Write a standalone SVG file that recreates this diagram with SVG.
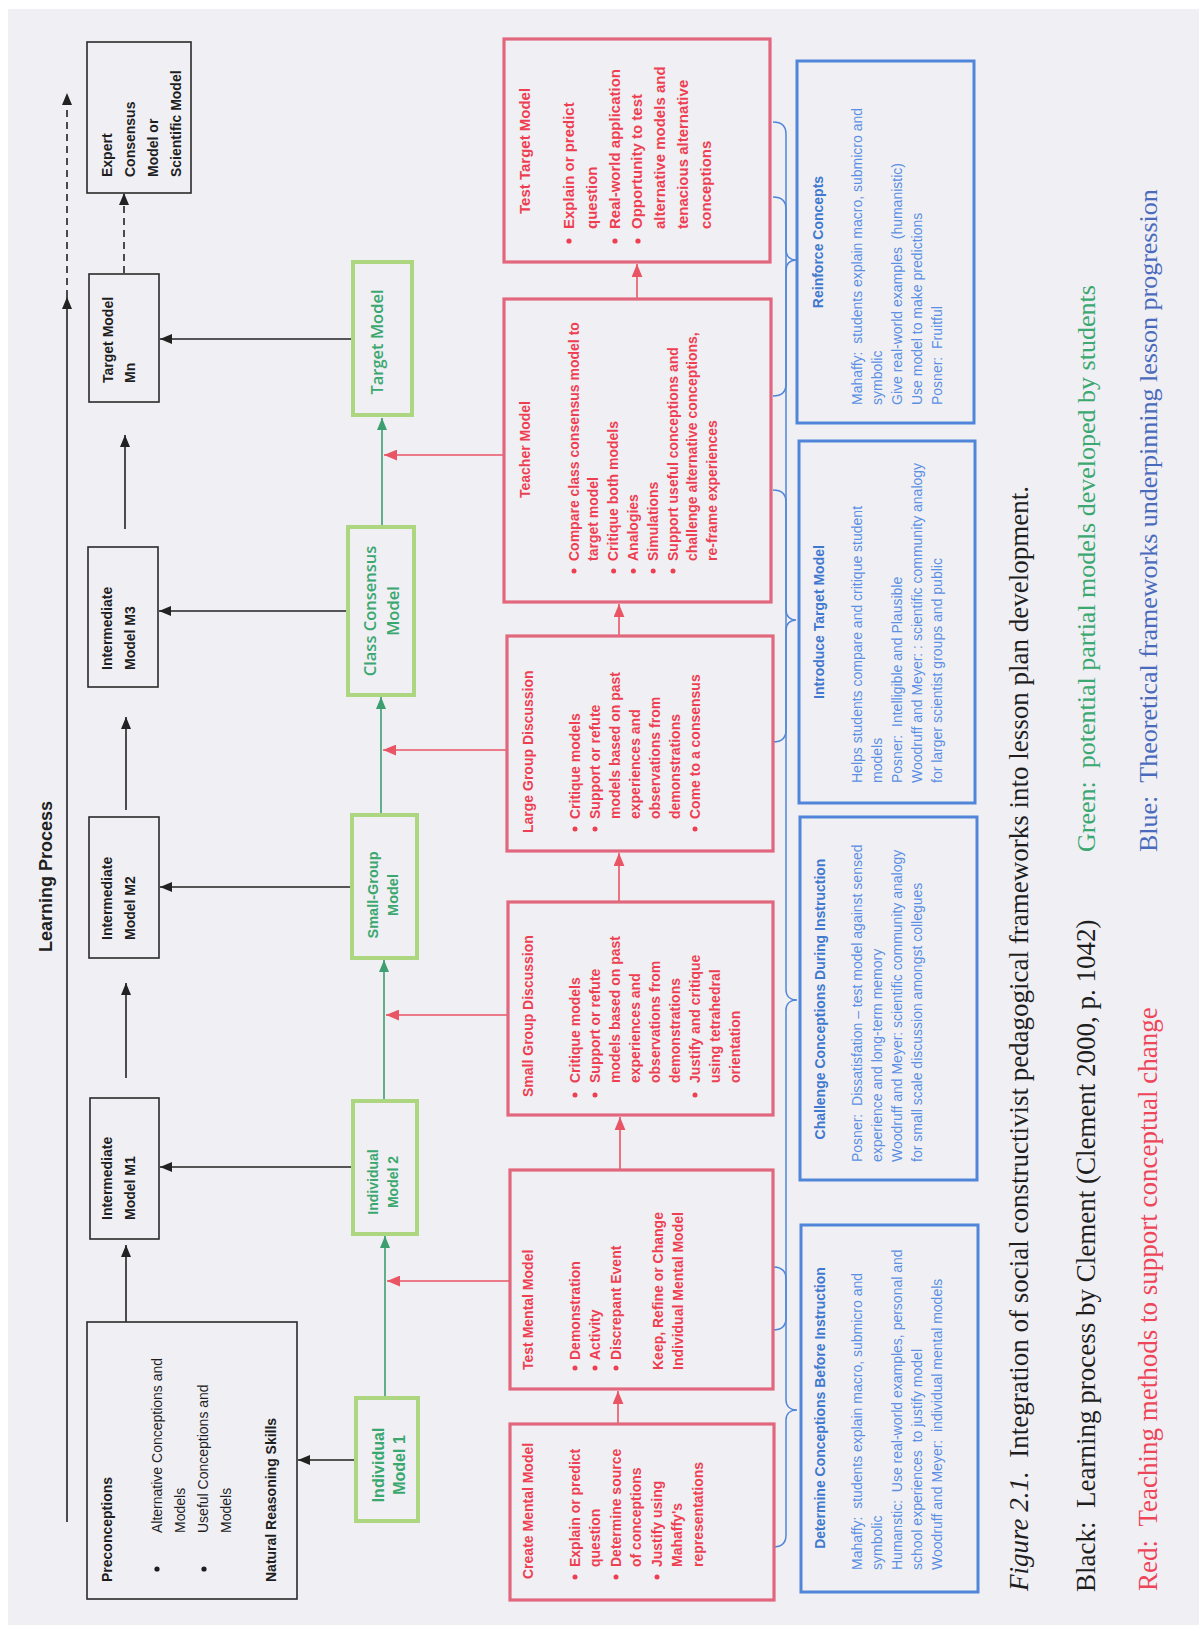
<svg xmlns="http://www.w3.org/2000/svg" width="1199" height="1625" viewBox="0 0 1199 1625">
<style>
.bk{fill:none;stroke:#2a2a2a;stroke-width:1.6}
.gb{fill:none;stroke:#acd67f;stroke-width:4}
.rb{fill:none;stroke:#e2677d;stroke-width:3.2}
.bb{fill:none;stroke:#4f86d9;stroke-width:3}
.ck{stroke:#222;stroke-width:1.6;fill:none}
.cg{stroke:#3d9e70;stroke-width:1.6;fill:none}
.cr{stroke:#ea5565;stroke-width:1.6;fill:none}
.cb{stroke:#4f86d9;stroke-width:1.5;fill:none}
.dash{stroke-dasharray:7,5}
text{font-family:"Liberation Sans",Arial,sans-serif}
.tk{font-weight:bold;font-size:14px;fill:#1e1e1e}
.tkr{font-size:14px;fill:#1e1e1e}
.tgo{font-family:"Open Sans","Liberation Sans",sans-serif;font-weight:600;font-size:16.5px;fill:#3aa86e}
.tga{font-weight:bold;font-size:14.5px;fill:#3aa86e}
.tr{font-weight:bold;font-size:14px;fill:#ee3f52}
.tr15{font-weight:bold;font-size:15px;fill:#ee3f52}
.tbt{font-weight:bold;font-size:14px;fill:#3f78cf}
.tbl{font-size:14px;fill:#5b8fe3}
.cap{font-family:"Liberation Serif","Times New Roman",serif;font-size:26px}
.cap27{font-size:27px}
.dot{fill:#ee3f52}
</style>
<defs>
<marker id="ak" viewBox="0 0 12 10" refX="12" refY="5" markerWidth="12" markerHeight="10" markerUnits="userSpaceOnUse" orient="auto"><path d="M0,0 L12,5 L0,10 z" fill="#222"/></marker>
<marker id="ag" viewBox="0 0 12 10" refX="12" refY="5" markerWidth="12" markerHeight="10" markerUnits="userSpaceOnUse" orient="auto"><path d="M0,0 L12,5 L0,10 z" fill="#3d9e70"/></marker>
<marker id="ar" viewBox="0 0 12 10" refX="12" refY="5" markerWidth="13" markerHeight="11" markerUnits="userSpaceOnUse" orient="auto"><path d="M0,0 L12,5 L0,10 z" fill="#ea5565"/></marker>
</defs>
<rect x="0" y="0" width="1199" height="1625" fill="#ffffff"/>
<rect x="8" y="9" width="1191" height="1616" fill="#f0eff4"/>

<g id="connectors">
<line class="ck" x1="67" y1="1522" x2="67" y2="297" marker-end="url(#ak)"/>
<line class="ck dash" x1="67" y1="297" x2="67" y2="93" marker-end="url(#ak)"/>
<line class="ck dash" x1="124" y1="273" x2="124" y2="193" marker-end="url(#ak)"/>
<line class="ck" x1="126" y1="1322" x2="126" y2="1245" marker-end="url(#ak)"/>
<line class="ck" x1="126" y1="1078" x2="126" y2="983" marker-end="url(#ak)"/>
<line class="ck" x1="126" y1="810" x2="126" y2="717" marker-end="url(#ak)"/>
<line class="ck" x1="125" y1="529" x2="125" y2="435" marker-end="url(#ak)"/>
<line class="ck" x1="353" y1="339" x2="160" y2="339" marker-end="url(#ak)"/>
<line class="ck" x1="348" y1="611" x2="159" y2="611" marker-end="url(#ak)"/>
<line class="ck" x1="352" y1="887" x2="160" y2="887" marker-end="url(#ak)"/>
<line class="ck" x1="353" y1="1167" x2="160" y2="1167" marker-end="url(#ak)"/>
<line class="ck" x1="356" y1="1460" x2="298" y2="1460" marker-end="url(#ak)"/>
<line class="cg" x1="385" y1="1398" x2="385" y2="1236" marker-end="url(#ag)"/>
<line class="cg" x1="384" y1="1101" x2="384" y2="960" marker-end="url(#ag)"/>
<line class="cg" x1="381" y1="815" x2="381" y2="697" marker-end="url(#ag)"/>
<line class="cg" x1="382" y1="527" x2="382" y2="418" marker-end="url(#ag)"/>
<line class="cr" x1="510" y1="1281" x2="387" y2="1281" marker-end="url(#ar)"/>
<line class="cr" x1="508" y1="1015" x2="386" y2="1015" marker-end="url(#ar)"/>
<line class="cr" x1="507" y1="750" x2="383" y2="750" marker-end="url(#ar)"/>
<line class="cr" x1="503" y1="455" x2="384" y2="455" marker-end="url(#ar)"/>
<line class="cr" x1="618" y1="1424" x2="618" y2="1391" marker-end="url(#ar)"/>
<line class="cr" x1="620" y1="1170" x2="620" y2="1117" marker-end="url(#ar)"/>
<line class="cr" x1="619" y1="902" x2="619" y2="853" marker-end="url(#ar)"/>
<line class="cr" x1="619" y1="636" x2="619" y2="604" marker-end="url(#ar)"/>
<line class="cr" x1="637" y1="299" x2="637" y2="264" marker-end="url(#ar)"/>
<path class="cb" d="M773,122 C781,122 786,126 786,134 L786,250 C786,256 790,260 796,260 C790,260 786,264 786,270 L786,384 C786,392 781,396 773,396"/>
<path class="cb" d="M773,197 C781,197 786,201 786,209 L786,990 C786,996 790,1000 797,1000 C790,1000 786,1004 786,1010 L786,1318 C786,1326 781,1330 773,1330"/>
<path class="cb" d="M773,490 C781,490 786,494 786,502 L786,610 C786,616 790,620 796,620 C790,620 786,624 786,630 L786,730 C786,738 781,742 773,742"/>
<path class="cb" d="M773,1267 C781,1267 786,1271 786,1279 L786,1400 C786,1406 790,1410 797,1410 C790,1410 786,1414 786,1420 L786,1535 C786,1543 781,1547 773,1547"/>
</g>

<g id="learning-process"><text class="tk" style="font-size:18px" transform="translate(52,952) rotate(-90)">Learning Process</text></g>

<g id="expert-model"><rect class="bk" x="87" y="42" width="104" height="151"/>
<text class="tk" transform="translate(112,177) rotate(-90)"><tspan x="0" y="0">Expert</tspan><tspan x="0" y="23">Consensus</tspan><tspan x="0" y="46">Model or</tspan><tspan x="0" y="69">Scientific Model</tspan></text></g>

<g id="target-model-mn"><rect class="bk" x="89" y="274" width="70" height="128"/>
<text class="tk" transform="translate(113,383) rotate(-90)"><tspan x="0" y="0">Target Model</tspan><tspan x="0" y="22">Mn</tspan></text></g>

<g id="intermediate-m3"><rect class="bk" x="88" y="547" width="70" height="140"/>
<text class="tk" transform="translate(112,670) rotate(-90)"><tspan x="0" y="0">Intermediate</tspan><tspan x="0" y="23">Model M3</tspan></text></g>

<g id="intermediate-m2"><rect class="bk" x="89" y="817" width="70" height="141"/>
<text class="tk" transform="translate(112,940) rotate(-90)"><tspan x="0" y="0">Intermediate</tspan><tspan x="0" y="23">Model M2</tspan></text></g>

<g id="intermediate-m1"><rect class="bk" x="90" y="1098" width="69" height="141"/>
<text class="tk" transform="translate(112,1220) rotate(-90)"><tspan x="0" y="0">Intermediate</tspan><tspan x="0" y="23">Model M1</tspan></text></g>

<g id="preconceptions"><rect class="bk" x="87" y="1322" width="210" height="277"/>
<text class="tk" transform="translate(112,1582) rotate(-90)">Preconceptions</text>
<circle cx="157" cy="1569" r="2.6" fill="#1e1e1e"/><circle cx="204" cy="1569" r="2.6" fill="#1e1e1e"/>
<text class="tkr" transform="translate(162,1533) rotate(-90)"><tspan x="0" y="0">Alternative Conceptions and</tspan><tspan x="0" y="23">Models</tspan><tspan x="0" y="46">Useful Conceptions and</tspan><tspan x="0" y="69">Models</tspan></text>
<text class="tk" transform="translate(276,1582) rotate(-90)">Natural Reasoning Skills</text></g>

<g id="green-target-model"><rect class="gb" x="353" y="262" width="59" height="153"/>
<text class="tgo" text-anchor="middle" transform="translate(383,342) rotate(-90)">Target Model</text></g>

<g id="class-consensus-model"><rect class="gb" x="348" y="527" width="66" height="168"/>
<text class="tgo" text-anchor="middle" transform="translate(376,611) rotate(-90)"><tspan x="0" y="0">Class Consensus</tspan><tspan x="0" y="23">Model</tspan></text></g>

<g id="small-group-model"><rect class="gb" x="352" y="815" width="65" height="143"/>
<text class="tga" text-anchor="middle" transform="translate(378,895) rotate(-90)"><tspan x="0" y="0">Small-Group</tspan><tspan x="0" y="20">Model</tspan></text></g>

<g id="individual-model-2"><rect class="gb" x="353" y="1101" width="64" height="133"/>
<text class="tga" style="font-size:14px" text-anchor="middle" transform="translate(378,1182) rotate(-90)"><tspan x="0" y="0">Individual</tspan><tspan x="0" y="20">Model 2</tspan></text></g>

<g id="individual-model-1"><rect class="gb" x="356" y="1398" width="62" height="123"/>
<text class="tga" style="font-size:16px" text-anchor="middle" transform="translate(384,1465) rotate(-90)"><tspan x="0" y="0">Individual</tspan><tspan x="0" y="21">Model 1</tspan></text></g>

<g id="test-target-model"><rect class="rb" x="504" y="39" width="266" height="223"/>
<text class="tr15" transform="translate(530,214) rotate(-90)">Test Target Model</text>
<circle class="dot" cx="569" cy="241" r="2.6"/><circle class="dot" cx="615" cy="241" r="2.6"/><circle class="dot" cx="638" cy="241" r="2.6"/>
<text class="tr15" transform="translate(574,229) rotate(-90)"><tspan x="0" y="0">Explain or predict</tspan><tspan x="0" y="22.8">question</tspan><tspan x="0" y="45.6">Real-world application</tspan><tspan x="0" y="68.4">Opportunity to test</tspan><tspan x="0" y="91.2">alternative models and</tspan><tspan x="0" y="114">tenacious alternative</tspan><tspan x="0" y="136.8">conceptions</tspan></text></g>

<g id="teacher-model"><rect class="rb" x="504" y="299" width="267" height="303"/>
<text class="tr" transform="translate(530,498) rotate(-90)">Teacher Model</text>
<circle class="dot" cx="574" cy="571" r="2.5"/><circle class="dot" cx="613.6" cy="571" r="2.5"/><circle class="dot" cx="633.4" cy="571" r="2.5"/><circle class="dot" cx="653.2" cy="571" r="2.5"/><circle class="dot" cx="673" cy="571" r="2.5"/>
<text class="tr" transform="translate(578.5,561) rotate(-90)"><tspan x="0" y="0">Compare class consensus model to</tspan><tspan x="0" y="19.8">target model</tspan><tspan x="0" y="39.6">Critique both models</tspan><tspan x="0" y="59.4">Analogies</tspan><tspan x="0" y="79.2">Simulations</tspan><tspan x="0" y="99">Support useful conceptions and</tspan><tspan x="0" y="118.8">challenge alternative conceptions,</tspan><tspan x="0" y="138.6">re-frame experiences</tspan></text></g>

<g id="large-group-discussion"><rect class="rb" x="507" y="636" width="266" height="215"/>
<text class="tr" transform="translate(533,833) rotate(-90)">Large Group Discussion</text>
<circle class="dot" cx="575" cy="829" r="2.5"/><circle class="dot" cx="595" cy="829" r="2.5"/><circle class="dot" cx="695" cy="829" r="2.5"/>
<text class="tr" transform="translate(579.5,819) rotate(-90)"><tspan x="0" y="0">Critique models</tspan><tspan x="0" y="20">Support or refute</tspan><tspan x="0" y="40">models based on past</tspan><tspan x="0" y="60">experiences and</tspan><tspan x="0" y="80">observations from</tspan><tspan x="0" y="100">demonstrations</tspan><tspan x="0" y="120">Come to a consensus</tspan></text></g>

<g id="small-group-discussion"><rect class="rb" x="508" y="902" width="265" height="213"/>
<text class="tr" transform="translate(533,1097) rotate(-90)">Small Group Discussion</text>
<circle class="dot" cx="575" cy="1095" r="2.5"/><circle class="dot" cx="595" cy="1095" r="2.5"/><circle class="dot" cx="695" cy="1095" r="2.5"/>
<text class="tr" transform="translate(579.5,1083) rotate(-90)"><tspan x="0" y="0">Critique models</tspan><tspan x="0" y="20">Support or refute</tspan><tspan x="0" y="40">models based on past</tspan><tspan x="0" y="60">experiences and</tspan><tspan x="0" y="80">observations from</tspan><tspan x="0" y="100">demonstrations</tspan><tspan x="0" y="120">Justify and critique</tspan><tspan x="0" y="140">using tetrahedral</tspan><tspan x="0" y="160">orientation</tspan></text></g>

<g id="test-mental-model"><rect class="rb" x="510" y="1170" width="263" height="219"/>
<text class="tr" transform="translate(533,1370) rotate(-90)">Test Mental Model</text>
<circle class="dot" cx="575" cy="1368" r="2.5"/><circle class="dot" cx="595" cy="1368" r="2.5"/><circle class="dot" cx="616" cy="1368" r="2.5"/>
<text class="tr" transform="translate(579.5,1360) rotate(-90)"><tspan x="0" y="0">Demonstration</tspan><tspan x="0" y="20">Activity</tspan><tspan x="0" y="41">Discrepant Event</tspan></text>
<text class="tr" transform="translate(662.5,1370) rotate(-90)"><tspan x="0" y="0">Keep, Refine or Change</tspan><tspan x="0" y="20">Individual Mental Model</tspan></text></g>

<g id="create-mental-model"><rect class="rb" x="510" y="1424" width="264" height="176"/>
<text class="tr" transform="translate(533,1579) rotate(-90)">Create Mental Model</text>
<circle class="dot" cx="575" cy="1577" r="2.5"/><circle class="dot" cx="616" cy="1577" r="2.5"/><circle class="dot" cx="657" cy="1577" r="2.5"/>
<text class="tr" transform="translate(579.5,1567) rotate(-90)"><tspan x="0" y="0">Explain or predict</tspan><tspan x="0" y="20.5">question</tspan><tspan x="0" y="41">Determine source</tspan><tspan x="0" y="61.5">of conceptions</tspan><tspan x="0" y="82">Justify using</tspan><tspan x="0" y="102.5">Mahaffy's</tspan><tspan x="0" y="123">representations</tspan></text></g>

<g id="reinforce-concepts"><rect class="bb" x="797" y="61" width="177" height="362"/>
<text class="tbt" text-anchor="middle" transform="translate(823,242) rotate(-90)">Reinforce Concepts</text>
<text class="tbl" transform="translate(862,405) rotate(-90)"><tspan x="0" y="0">Mahaffy: &#160;students explain macro, submicro and</tspan><tspan x="0" y="20">symbolic</tspan><tspan x="0" y="40">Give real-world examples &#160;(humanistic)</tspan><tspan x="0" y="60">Use model to make predictions</tspan><tspan x="0" y="80">Posner: &#160;Fruitful</tspan></text></g>

<g id="introduce-target-model"><rect class="bb" x="799" y="441" width="176" height="362"/>
<text class="tbt" text-anchor="middle" transform="translate(824,622) rotate(-90)">Introduce Target Model</text>
<text class="tbl" transform="translate(862,783) rotate(-90)"><tspan x="0" y="0">Helps students compare and critique student</tspan><tspan x="0" y="20">models</tspan><tspan x="0" y="40">Posner: &#160;Intelligible and Plausible</tspan><tspan x="0" y="60">Woodruff and Meyer: : scientific community analogy</tspan><tspan x="0" y="80">for larger scientist groups and public</tspan></text></g>

<g id="challenge-conceptions"><rect class="bb" x="800" y="817" width="177" height="363"/>
<text class="tbt" text-anchor="middle" transform="translate(825,999) rotate(-90)">Challenge Conceptions During Instruction</text>
<text class="tbl" transform="translate(862,1162) rotate(-90)"><tspan x="0" y="0">Posner: &#160;Dissatisfation – test model against sensed</tspan><tspan x="0" y="20">experience and long-term memory</tspan><tspan x="0" y="40">Woodruff and Meyer: scientific community analogy</tspan><tspan x="0" y="60">for small scale discussion amongst collegues</tspan></text></g>

<g id="determine-conceptions"><rect class="bb" x="801" y="1225" width="177" height="367"/>
<text class="tbt" text-anchor="middle" transform="translate(825,1408) rotate(-90)">Determine Conceptions Before Instruction</text>
<text class="tbl" transform="translate(862,1570) rotate(-90)"><tspan x="0" y="0">Mahaffy: &#160;students explain macro, submicro and</tspan><tspan x="0" y="20">symbolic</tspan><tspan x="0" y="40">Humanstic: &#160;Use real-world examples, personal and</tspan><tspan x="0" y="60">school experiences &#160;to justify model</tspan><tspan x="0" y="80">Woodruff and Meyer: &#160;individual mental models</tspan></text></g>

<g id="caption">
<text class="cap cap27" fill="#1e1e1e" transform="translate(1028,1591) rotate(-90)"><tspan font-style="italic">Figure 2.1.</tspan> &#160;Integration of social constructivist pedagogical frameworks into lesson plan development.</text>
<text class="cap cap27" fill="#1e1e1e" transform="translate(1095,1592) rotate(-90)">Black: &#160;Learning process by Clement (Clement 2000, p. 1042)</text>
<text class="cap" fill="#3aa870" transform="translate(1095,852) rotate(-90)">Green: &#160;potential partial models developed by students</text>
<text class="cap cap27" fill="#ee4558" transform="translate(1157,1591) rotate(-90)">Red: &#160;Teaching methods to support conceptual change</text>
<text class="cap" fill="#4a6bbd" transform="translate(1157,852) rotate(-90)">Blue: &#160;Theoretical frameworks underpinning lesson progression</text>
</g>
</svg>
